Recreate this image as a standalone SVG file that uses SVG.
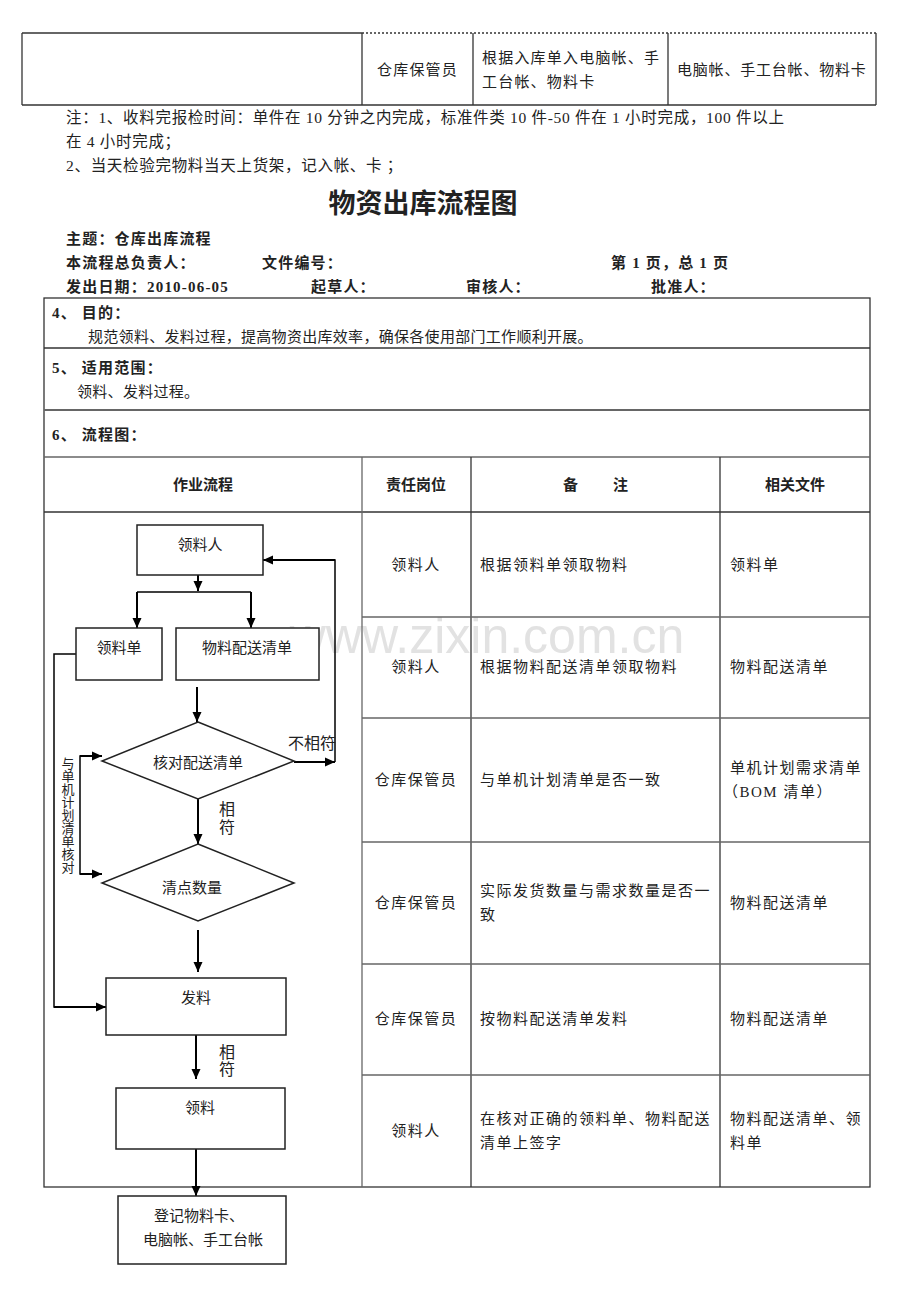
<svg xmlns="http://www.w3.org/2000/svg" width="920" height="1302" viewBox="0 0 920 1302">
<style>
.t{font-family:"Liberation Serif","Noto Sans CJK SC",serif;font-size:15px;fill:#222}
.s{font-family:"Liberation Sans","Noto Sans CJK SC",sans-serif;font-size:15px;fill:#222}
.b{font-weight:bold}
.c{text-anchor:middle}
.ls{letter-spacing:1.5px}
.hd{letter-spacing:1.2px}
.nt{font-size:15.5px;letter-spacing:0.7px}
.ln{stroke:#333;stroke-width:1.3;fill:none}
.lg{stroke:#666;stroke-width:1.3;fill:none}
.box{fill:#fff;stroke:#222;stroke-width:1.5}
.arr{stroke:#000;stroke-width:2;fill:none;marker-end:url(#ah)}
.pl{stroke:#000;stroke-width:1.5;fill:none}
.wm{font-family:"Liberation Sans",Arial,sans-serif;font-size:50px;fill:#e2e2e2}
</style>
<defs>
<marker id="ah" viewBox="0 0 10 10" refX="10" refY="5" markerWidth="10" markerHeight="10" markerUnits="userSpaceOnUse" orient="auto">
<path d="M0,0.5 L10,5 L0,9.5 z" fill="#000"/>
</marker>
</defs>
<rect width="920" height="1302" fill="#fff"/>
<text class="wm" x="487" y="653" text-anchor="middle">www.zixin.com.cn</text>

<g id="top-table">
<line class="ln" x1="22" y1="33" x2="362" y2="33"/>
<line class="ln" x1="362" y1="33" x2="876" y2="33" stroke-dasharray="2,2"/>
<line class="ln" x1="22" y1="105" x2="876" y2="105"/>
<line class="ln" x1="22" y1="33" x2="22" y2="105"/>
<line class="ln" x1="876" y1="33" x2="876" y2="105"/>
<line class="ln" x1="362" y1="33" x2="362" y2="105"/>
<line class="ln" x1="473" y1="33" x2="473" y2="105"/>
<line class="ln" x1="668" y1="33" x2="668" y2="105"/>
<text class="t" x="377" y="75" style="letter-spacing:1.2px">仓库保管员</text>
<text class="t" x="482" y="63" style="letter-spacing:1.2px">根据入库单入电脑帐、手</text>
<text class="t" x="482" y="87" style="letter-spacing:1.2px">工台帐、物料卡</text>
<text class="t" x="677" y="75" style="letter-spacing:0.8px">电脑帐、手工台帐、物料卡</text>
</g>

<g id="notes">
<text class="t nt" x="66" y="123">注：1、收料完报检时间：单件在 10 分钟之内完成，标准件类 10 件-50 件在 1 小时完成，100 件以上</text>
<text class="t nt" x="66" y="147">在 4 小时完成；</text>
<text class="t nt" x="66" y="171">2、当天检验完物料当天上货架，记入帐、卡 ；</text>
</g>

<g id="header">
<text class="t b c" x="423" y="213" style="font-size:27px">物资出库流程图</text>
<text class="t b hd" x="66" y="244">主题：仓库出库流程</text>
<text class="t b hd" x="66" y="268">本流程总负责人：</text>
<text class="t b hd" x="262" y="268">文件编号：</text>
<text class="t b hd" x="611" y="268">第 1 页，总 1 页</text>
<text class="t b hd" x="66" y="292">发出日期：2010-06-05</text>
<text class="t b hd" x="311" y="292">起草人：</text>
<text class="t b hd" x="466" y="292">审核人：</text>
<text class="t b hd" x="651" y="292">批准人：</text>
</g>

<g id="main-table">
<rect class="ln" x="44" y="298" width="826" height="889"/>
<line class="ln" x1="44" y1="348" x2="870" y2="348"/>
<line class="lg" x1="44" y1="410" x2="870" y2="410" style="stroke-width:2"/>
<line class="lg" x1="44" y1="457" x2="870" y2="457"/>
<line class="ln" x1="44" y1="512" x2="870" y2="512"/>
<line class="lg" x1="362" y1="457" x2="362" y2="1187"/>
<line class="ln" x1="471" y1="457" x2="471" y2="1187"/>
<line class="ln" x1="720" y1="457" x2="720" y2="1187"/>
<line class="lg" x1="362" y1="617" x2="870" y2="617"/>
<line class="lg" x1="362" y1="718" x2="870" y2="718"/>
<line class="lg" x1="362" y1="842" x2="870" y2="842"/>
<line class="lg" x1="362" y1="964" x2="870" y2="964"/>
<line class="lg" x1="362" y1="1075" x2="870" y2="1075"/>
<text class="t b hd" x="52" y="318">4、 目的：</text>
<text class="t" x="88" y="342" style="letter-spacing:0.3px">规范领料、发料过程，提高物资出库效率，确保各使用部门工作顺利开展。</text>
<text class="t b hd" x="52" y="373">5、 适用范围：</text>
<text class="t" x="77" y="397" style="letter-spacing:0.3px">领料、发料过程。</text>
<text class="t b hd" x="52" y="440">6、 流程图：</text>
<text class="t b c" x="203" y="490">作业流程</text>
<text class="t b c" x="416" y="490">责任岗位</text>
<text class="t b" x="563" y="490">备</text>
<text class="t b" x="613" y="490">注</text>
<text class="t b c" x="795" y="490">相关文件</text>

<text class="t c ls" x="416" y="570">领料人</text>
<text class="t ls" x="480" y="570">根据领料单领取物料</text>
<text class="t ls" x="730" y="570">领料单</text>

<text class="t c ls" x="416" y="672">领料人</text>
<text class="t ls" x="480" y="672">根据物料配送清单领取物料</text>
<text class="t ls" x="730" y="672">物料配送清单</text>

<text class="t c ls" x="416" y="785">仓库保管员</text>
<text class="t ls" x="480" y="785">与单机计划清单是否一致</text>
<text class="t ls" x="730" y="773">单机计划需求清单</text>
<text class="t ls" x="723" y="797">（BOM 清单）</text>

<text class="t c ls" x="416" y="908">仓库保管员</text>
<text class="t ls" x="480" y="896">实际发货数量与需求数量是否一</text>
<text class="t ls" x="480" y="920">致</text>
<text class="t ls" x="730" y="908">物料配送清单</text>

<text class="t c ls" x="416" y="1024">仓库保管员</text>
<text class="t ls" x="480" y="1024">按物料配送清单发料</text>
<text class="t ls" x="730" y="1024">物料配送清单</text>

<text class="t c ls" x="416" y="1136">领料人</text>
<text class="t ls" x="480" y="1124">在核对正确的领料单、物料配送</text>
<text class="t ls" x="480" y="1148">清单上签字</text>
<text class="t ls" x="730" y="1124">物料配送清单、领</text>
<text class="t ls" x="730" y="1148">料单</text>
</g>

<g id="connectors">
<line class="arr" x1="198" y1="575" x2="198" y2="591"/>
<polyline class="pl" points="137,592 251,592"/>
<line class="arr" x1="137" y1="592" x2="137" y2="628"/>
<line class="arr" x1="251" y1="592" x2="251" y2="628"/>
<polyline class="pl" points="76,654 54,654 54,1007 96,1007"/>
<line class="arr" x1="54" y1="1007" x2="106" y2="1007"/>
<line class="arr" x1="197" y1="687" x2="197" y2="722"/>
<line class="arr" x1="294" y1="762" x2="335" y2="762"/>
<polyline class="pl" points="335,762 335,560 290,560"/>
<line class="arr" x1="335" y1="560" x2="263" y2="560"/>
<polyline class="pl" points="102,756 80,756 80,874 90,874"/>
<line class="arr" x1="80" y1="756" x2="102" y2="756"/>
<line class="arr" x1="80" y1="874" x2="102" y2="874"/>
<line class="arr" x1="198" y1="799" x2="198" y2="844"/>
<line class="arr" x1="198" y1="930" x2="198" y2="972"/>
<line class="arr" x1="196" y1="1035" x2="196" y2="1079"/>
<line class="arr" x1="196" y1="1149" x2="196" y2="1196"/>
<text class="s" x="288" y="749" style="font-size:16px">不相符</text>
<text class="s" x="219" y="815" style="font-size:16px">相</text>
<text class="s" x="219" y="833" style="font-size:16px">符</text>
<text class="s" x="219" y="1058" style="font-size:16px">相</text>
<text class="s" x="219" y="1075" style="font-size:16px">符</text>
<text class="s c" x="68" y="768" style="font-size:13px"><tspan x="68">与</tspan><tspan x="68" dy="13">单</tspan><tspan x="68" dy="13">机</tspan><tspan x="68" dy="13">计</tspan><tspan x="68" dy="13">划</tspan><tspan x="68" dy="13">清</tspan><tspan x="68" dy="13">单</tspan><tspan x="68" dy="13">核</tspan><tspan x="68" dy="13">对</tspan></text>
</g>

<g id="node-lingliaoren">
<rect class="box" x="137" y="525" width="126" height="50"/>
<text class="s c" x="200" y="550">领料人</text>
</g>
<g id="node-lingliaodan">
<rect class="box" x="76" y="628" width="86" height="52"/>
<text class="s c" x="119" y="653">领料单</text>
</g>
<g id="node-peisong">
<rect class="box" x="176" y="628" width="143" height="52"/>
<text class="s c" x="247" y="653">物料配送清单</text>
</g>
<g id="node-hedui">
<polygon class="box" points="198,722 294,761 198,799 102,761"/>
<text class="s c" x="198" y="768">核对配送清单</text>
</g>
<g id="node-qingdian">
<polygon class="box" points="198,844 294,883 198,921 102,883"/>
<text class="s c" x="192" y="893">清点数量</text>
</g>
<g id="node-faliao">
<rect class="box" x="106" y="978" width="180" height="57"/>
<text class="s c" x="196" y="1003">发料</text>
</g>
<g id="node-lingliao">
<rect class="box" x="116" y="1088" width="169" height="61"/>
<text class="s c" x="200" y="1113">领料</text>
</g>
<g id="node-dengji">
<rect class="box" x="118" y="1196" width="168" height="68"/>
<text class="s c" x="199" y="1221">登记物料卡、</text>
<text class="s c" x="203" y="1245">电脑帐、手工台帐</text>
</g>
</svg>
